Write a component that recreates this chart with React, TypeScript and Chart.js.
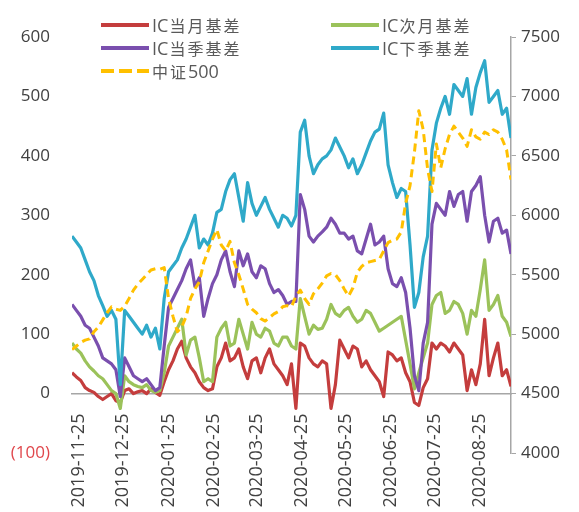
import React, { useEffect, useRef } from "react";
import { Chart, registerables } from "chart.js";

Chart.register(...registerables);

const DAY_MS = 86400000;
const START = Date.UTC(2019, 10, 20);

// category dates: one sample every 3 calendar days from 2019-11-20 to 2020-09-15
const dates: string[] = Array.from({ length: 101 }, (_, i) =>
  new Date(START + 3 * i * DAY_MS).toISOString().slice(0, 10)
);

const tickDates = [
  "2019-11-25", "2019-12-25", "2020-01-25", "2020-02-25", "2020-03-25",
  "2020-04-25", "2020-05-25", "2020-06-25", "2020-07-25", "2020-08-25",
];

const leftTicks = [-100, 0, 100, 200, 300, 400, 500, 600];
const rightTicks = [4000, 4500, 5000, 5500, 6000, 6500, 7000, 7500];

const icMonth = [
  35, 28, 22, 10, 5, 2, -5, -10, -5, 0, -12, -15, 5, 8, 0, 3, 5, 0, 8, 2,
  -3, 20, 40, 55, 75, 88, 60, 45, 35, 20, 10, 5, 8, 45, 60, 85, 55, 60, 75, 45,
  25, 55, 60, 35, 60, 75, 50, 40, 30, 15, 50, -25, 85, 80, 60, 50, 45, 55, 50, -25,
  15, 90, 75, 60, 80, 75, 45, 55, 40, 30, 20, -5, 70, 65, 55, 60, 35, 20, -15, -20,
  10, 25, 85, 75, 85, 80, 70, 85, 75, 65, 5, 40, 15, 50, 125, 30, 60, 85, 30, 40,
  12,
];

const icNext = [
  85, 75, 68, 55, 45, 38, 30, 25, 15, 5, 0, -25, 30, 20, 15, 12, 10, 15, 5, 2,
  5, 35, 80, 95, 110, 125, 65, 90, 95, 60, 20, 25, 20, 95, 110, 120, 80, 85, 125, 100,
  75, 120, 100, 95, 110, 105, 85, 80, 95, 95, 80, 75, 160, 130, 100, 115, 108, 110, 125, 150,
  135, 130, 140, 145, 130, 120, 125, 140, 135, 120, 105, 110, 115, 120, 125, 130, 90, 50, 8, 35,
  60, 85, 150, 165, 170, 135, 140, 155, 150, 135, 100, 140, 130, 175, 225, 140, 150, 165, 130, 120,
  96,
];

const icQuarter = [
  150, 140, 130, 115, 110, 95, 80, 60, 55, 50, 40, -5, 60, 45, 30, 25, 20, 25, 15, 5,
  10, 80, 145, 160, 175, 190, 210, 225, 180, 195, 130, 160, 185, 200, 225, 240, 205, 180, 240, 215,
  235, 205, 195, 215, 210, 185, 170, 175, 165, 150, 155, 155, 335, 310, 265, 255, 265, 272, 280, 295,
  285, 270, 270, 260, 265, 240, 235, 260, 285, 250, 255, 265, 210, 185, 180, 195, 170, 110, 30, 5,
  85, 120, 285, 320, 310, 300, 340, 315, 335, 340, 290, 340, 350, 365, 300, 255, 290, 295, 270, 275,
  235,
];

const icNextQuarter = [
  265, 255, 245, 225, 205, 190, 165, 148, 130, 140, 125, 15, 140, 130, 120, 110, 100, 115, 95, 110,
  75, 160, 205, 215, 225, 245, 260, 280, 300, 245, 260, 250, 270, 305, 310, 340, 360, 370, 330, 290,
  355, 320, 300, 315, 330, 310, 295, 280, 300, 295, 282, 300, 440, 460, 400, 370, 385, 395, 400, 410,
  430, 415, 400, 380, 395, 370, 385, 405, 425, 440, 445, 472, 385, 355, 330, 345, 340, 250, 145, 170,
  230, 265, 410, 455, 480, 500, 470, 520, 510, 500, 530, 470, 515, 540, 560, 490, 500, 510, 470, 480,
  430,
];

const csi500 = [
  4870, 4900, 4930, 4950, 4960, 5020, 5060, 5120, 5180, 5230, 5210, 5200, 5235, 5300, 5370, 5420, 5460, 5500, 5540, 5550,
  5545, 5560, 5300, 5150, 5020, 5060, 5150, 5300, 5380, 5440, 5600, 5700, 5800, 5880, 5750, 5700, 5780, 5600, 5500, 5380,
  5250, 5210, 5180, 5130, 5110, 5140, 5170, 5190, 5230, 5240, 5230, 5320, 5370, 5300, 5250, 5340, 5380, 5430, 5490, 5510,
  5500, 5450, 5380, 5320, 5390, 5520, 5570, 5600, 5610, 5620, 5630, 5700, 5770, 5790, 5800, 5860, 6100, 6250, 6530, 6880,
  6720, 6390, 6200, 6600, 6400, 6560, 6680, 6750, 6700, 6650, 6580, 6720, 6660, 6640, 6700, 6680, 6720, 6700, 6640, 6550,
  6300,
];

const COLORS = {
  month: "#C43D3D",
  next: "#9BC25A",
  quarter: "#7A4FAE",
  nextQuarter: "#2FA9C9",
  csi: "#FFC000",
};

const toDay = (s: string) => (Date.parse(s + "T00:00:00Z") - START) / DAY_MS;
const pts = (vals: number[]) => vals.map((v, i) => ({ x: toDay(dates[i]), y: v }));

const TICK_FONT = { family: "'Open Sans', sans-serif", size: 17 };
const DATE_FONT = { family: "'Open Sans', sans-serif", size: 18 };

type LegendItem = { latin: string; cjk: string; cjkFirst?: boolean; color: string; dashed?: boolean; x: number; y: number };
const legendItems: LegendItem[] = [
  { latin: "IC", cjk: "当月基差", color: COLORS.month, x: 101, y: 25 },
  { latin: "IC", cjk: "次月基差", color: COLORS.next, x: 331, y: 25 },
  { latin: "IC", cjk: "当季基差", color: COLORS.quarter, x: 101, y: 48 },
  { latin: "IC", cjk: "下季基差", color: COLORS.nextQuarter, x: 331, y: 48 },
  { latin: "500", cjk: "中证", cjkFirst: true, color: COLORS.csi, dashed: true, x: 101, y: 71 },
];

export default function App() {
  const canvasRef = useRef<HTMLCanvasElement | null>(null);

  useEffect(() => {
    if (!canvasRef.current) return;
    const tickMap = new Map<number, string>();
    tickDates.forEach((d) => tickMap.set(toDay(d), d));

    const chart = new Chart(canvasRef.current, {
      type: "line",
      data: {
        datasets: [
          { label: "中证500", data: pts(csi500), yAxisID: "y2", borderColor: COLORS.csi, borderWidth: 3, borderDash: [8, 5], order: 0 },
          { label: "IC下季基差", data: pts(icNextQuarter), yAxisID: "y", borderColor: COLORS.nextQuarter, borderWidth: 3.2, order: 1 },
          { label: "IC当季基差", data: pts(icQuarter), yAxisID: "y", borderColor: COLORS.quarter, borderWidth: 3.2, order: 2 },
          { label: "IC次月基差", data: pts(icNext), yAxisID: "y", borderColor: COLORS.next, borderWidth: 3.2, order: 3 },
          { label: "IC当月基差", data: pts(icMonth), yAxisID: "y", borderColor: COLORS.month, borderWidth: 3.2, order: 4 },
        ].map((d) => ({ ...d, pointRadius: 0, tension: 0, fill: false, borderJoinStyle: "round" as const })),
      },
      options: {
        animation: false,
        responsive: false,
        events: [],
        layout: { padding: { top: 37, bottom: 59, left: 0, right: 0 } },
        plugins: { legend: { display: false }, tooltip: { enabled: false } },
        scales: {
          x: {
            type: "linear",
            position: { y: 0 } as any,
            min: 0,
            max: toDay(dates[dates.length - 1]),
            grid: { display: false },
            border: { display: true, color: "#A6A6A6", width: 1.5 },
            afterBuildTicks: (s: any) => {
              s.ticks = tickDates.map((d) => ({ value: toDay(d) }));
            },
            ticks: {
              autoSkip: false,
              minRotation: 90,
              maxRotation: 90,
              padding: 12,
              color: "#404040",
              font: DATE_FONT,
              callback: (v: any) => tickMap.get(Number(v)) ?? "",
            },
          },
          y: {
            type: "linear",
            position: "left",
            min: leftTicks[0],
            max: leftTicks[leftTicks.length - 1],
            afterBuildTicks: (s: any) => {
              s.ticks = leftTicks.map((v) => ({ value: v }));
            },
            grid: { display: false },
            border: { display: false },
            afterFit: (s: any) => {
              s.width = 72;
            },
            ticks: {
              padding: 14,
              font: TICK_FONT,
              color: (ctx: any) => (ctx.tick && ctx.tick.value < 0 ? "#E0474C" : "#404040"),
              callback: (v: any) => (Number(v) < 0 ? `(${-Number(v)})` : String(v)),
            },
          },
          y2: {
            type: "linear",
            position: "right",
            min: rightTicks[0],
            max: rightTicks[rightTicks.length - 1],
            afterBuildTicks: (s: any) => {
              s.ticks = rightTicks.map((v) => ({ value: v }));
            },
            grid: { drawOnChartArea: false, tickLength: 5, color: "#A6A6A6" },
            border: { display: true, color: "#A6A6A6", width: 1.5 },
            afterFit: (s: any) => {
              s.width = 68;
            },
            ticks: { padding: 5, font: TICK_FONT, color: "#404040", callback: (v: any) => String(v) },
          },
        },
      },
    });
    return () => chart.destroy();
  }, []);

  return (
    <div style={{ position: "fixed", left: 0, top: 0, width: 579, height: 512, background: "#fff", overflow: "hidden" }}>
      <canvas ref={canvasRef} width={579} height={512} style={{ position: "absolute", left: 0, top: 0, width: 579, height: 512 }} />
      {legendItems.map((it, k) => (
        <React.Fragment key={k}>
          <div
            style={{
              position: "absolute",
              left: it.x,
              top: it.y - 2,
              width: 48,
              height: 4,
              background: it.dashed
                ? `repeating-linear-gradient(to right, ${it.color} 0 13px, transparent 13px 18px)`
                : it.color,
            }}
          />
          <div
            style={{
              position: "absolute",
              left: it.x + 51,
              top: it.y - 12,
              height: 24,
              lineHeight: "24px",
              whiteSpace: "nowrap",
              color: "#595959",
            }}
          >
            {it.cjkFirst ? (
              <>
                <span style={{ fontFamily: "'Noto Sans CJK SC', sans-serif", fontSize: 16, letterSpacing: 2 }}>{it.cjk}</span>
                <span style={{ fontFamily: "'Open Sans', sans-serif", fontSize: 18 }}>{it.latin}</span>
              </>
            ) : (
              <>
                <span style={{ fontFamily: "'Open Sans', sans-serif", fontSize: 18 }}>{it.latin}</span>
                <span style={{ fontFamily: "'Noto Sans CJK SC', sans-serif", fontSize: 16, letterSpacing: 2, marginLeft: 1 }}>{it.cjk}</span>
              </>
            )}
          </div>
        </React.Fragment>
      ))}
    </div>
  );
}
